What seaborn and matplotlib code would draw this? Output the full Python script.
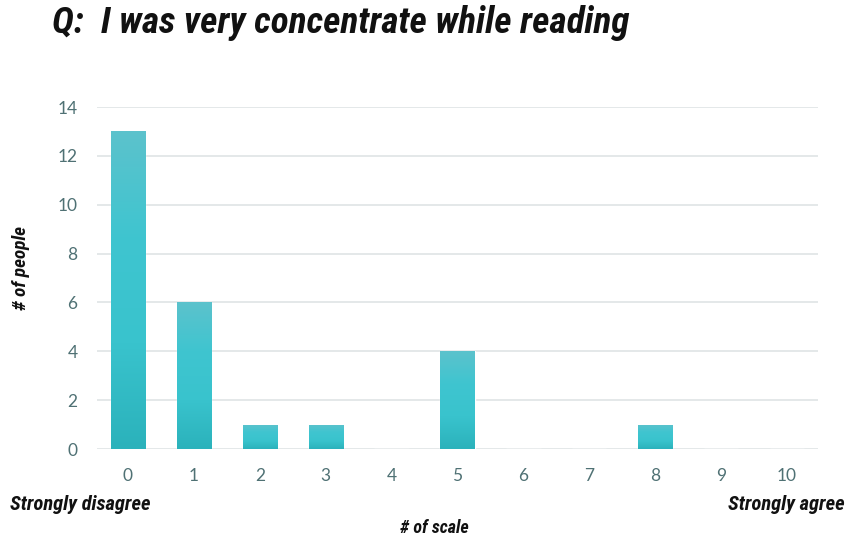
import numpy as np
import pandas as pd
import matplotlib
matplotlib.use("Agg")
import matplotlib.pyplot as plt
import seaborn as sns
from matplotlib.colors import LinearSegmentedColormap

# Survey responses on a 0-10 scale
scale = [0, 1, 2, 3, 4, 5, 6, 7, 8, 9, 10]
people = [13, 6, 1, 1, 0, 4, 0, 0, 1, 0, 0]
y_ticks = [0, 2, 4, 6, 8, 10, 12, 14]

title = "Q:  I was very concentrate while reading"
ylabel = "# of people"
xlabel = "# of scale"
left_note = "Strongly disagree"
right_note = "Strongly agree"

df = pd.DataFrame({"scale": [str(s) for s in scale], "people": people})

sns.set_theme(style="white")
plt.rcParams["font.family"] = ["Lato", "DejaVu Sans"]

fig = plt.figure(figsize=(8.48, 5.42), dpi=100)
ax = fig.add_axes([97 / 848, 93 / 542, 721 / 848, 342 / 542])

sns.barplot(data=df, x="scale", y="people", color="#3cc3cd", width=0.52,
            saturation=1, ax=ax, zorder=3)

# vertical teal gradient on each bar
cmap = LinearSegmentedColormap.from_list(
    "teal", ["#2bb2bb", "#39c3cd", "#3fc5d0", "#5cc2cc"])
grad = np.linspace(0, 1, 256).reshape(-1, 1)
for patch in ax.patches:
    x0, y0 = patch.get_x(), patch.get_y()
    w, h = patch.get_width(), patch.get_height()
    if h <= 0:
        continue
    im = ax.imshow(grad, cmap=cmap, origin="lower", aspect="auto",
                   extent=[x0, x0 + w, y0, y0 + h], zorder=4)
    im.set_clip_path(patch)

ax.set_xlim(-0.47, 10.47)
ax.set_ylim(0, 14)
ax.set_yticks(y_ticks)
ax.yaxis.grid(True, color="#e4e8e9", linewidth=1.4, zorder=0)
ax.set_axisbelow(True)
for s in ax.spines.values():
    s.set_visible(False)

tick_color = "#4f7174"
ax.tick_params(axis="both", length=0, labelsize=12.5, colors=tick_color)
ax.tick_params(axis="x", pad=14)
ax.tick_params(axis="y", pad=14)
ax.set_xlabel("")
ax.set_ylabel("")

bold_it = dict(fontweight="bold", fontstyle="italic", color="#111111",
               family=["Roboto Condensed", "Barlow Semi Condensed", "DejaVu Sans"])

fig.text(52 / 848, 1 - 23 / 542, title, fontsize=26.8, va="center", ha="left",
         **bold_it)
fig.text(21 / 848, 1 - 268 / 542, ylabel, fontsize=13.8, rotation=90,
         va="center", ha="center", **bold_it)
fig.text(10 / 848, 1 - 504 / 542, left_note, fontsize=14.8, va="center",
         ha="left", **bold_it)
fig.text(845 / 848, 1 - 504 / 542, right_note, fontsize=14.8, va="center",
         ha="right", **bold_it)
fig.text(434 / 848, 1 - 528 / 542, xlabel, fontsize=13, va="center",
         ha="center", **bold_it)

fig.savefig("out.png", dpi=100, facecolor="white")
